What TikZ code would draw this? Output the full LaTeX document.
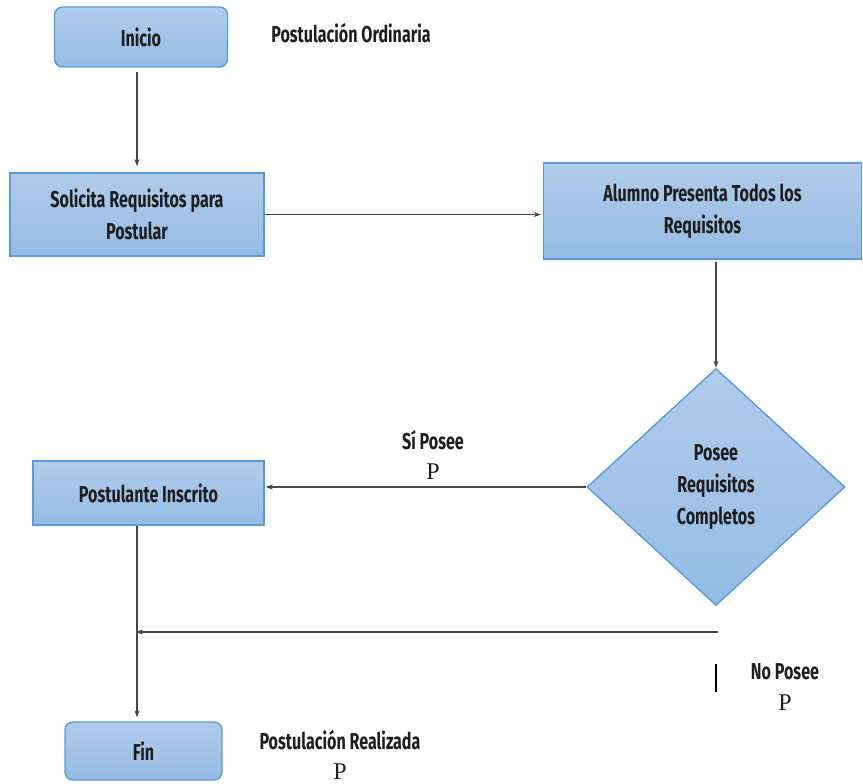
\documentclass[tikz,border=0pt]{standalone}
\usepackage{fontspec}
\setmainfont{Fira Sans}[FakeStretch=0.7]
\newfontfamily\pserif{Liberation Serif}
\usetikzlibrary{shapes.geometric,arrows.meta}
\definecolor{boxtop}{RGB}{178,204,235}
\definecolor{boxbot}{RGB}{148,187,227}
\definecolor{boxline}{RGB}{91,155,213}
\definecolor{wire}{RGB}{70,70,70}
\definecolor{ink}{RGB}{30,30,30}
\tikzset{
  boxbase/.style={draw=boxline, line width=1.4pt, top color=boxtop, bottom color=boxbot,
    text=ink, align=center, inner sep=0pt, font=\bfseries\fontsize{23}{32}\selectfont},
  terminal/.style={boxbase, rounded corners=8pt},
  process/.style={boxbase},
  decision/.style={boxbase, shape=diamond, minimum width=258pt, minimum height=237pt},
  label/.style={text=ink, align=center, font=\bfseries\fontsize{23}{32}\selectfont},
  pmark/.style={text=ink, font=\pserif\fontsize{24}{24}\selectfont, inner sep=0pt},
  flow/.style={draw=wire, line width=1.1pt, -{Stealth[length=7pt,width=5pt]}}
}
\begin{document}
\begin{tikzpicture}[x=1pt,y=-1pt]
  \useasboundingbox (0,0) rectangle (863,784);

  % process boxes
  \node[terminal, minimum width=173pt, minimum height=60pt] (ini) at (141,37) {Inicio};
  \node[process, minimum width=254pt, minimum height=83pt] (sol) at (137,214.5) {Solicita Requisitos para\\Postular};
  \node[process, minimum width=318pt, minimum height=96pt] (alu) at (702.5,211) {Alumno Presenta Todos los\\Requisitos};
  \node[decision] (dec) at (716,487) {Posee\\Requisitos\\Completos};
  \node[process, minimum width=231pt, minimum height=64pt] (ins) at (148.5,493) {Postulante Inscrito};
  \node[terminal, minimum width=157pt, minimum height=58pt] (fin) at (143.5,751) {Fin};

  % side notes
  \node[label] (t1) at (351,33) {Postulación Ordinaria};
  \node[label] (t2) at (433,440) {Sí Posee};
  \node[pmark] (p2) at (433,472) {P};
  \node[label] (t3) at (785,672) {No Posee};
  \node[pmark] (p3) at (785,703) {P};
  \node[label] (t4) at (340,740) {Postulación Realizada};
  \node[pmark] (p4) at (340,772) {P};

  % junction points
  \coordinate (j) at (137,632);
  \coordinate (np) at (718,632);
  \coordinate (bar1) at (716,664);
  \coordinate (bar2) at (716,692);

  % connectors
  \draw[flow, shorten <=4pt, shorten >=6pt] (ini.south -| j) -- (sol.north -| j);
  \draw[flow, shorten >=2pt] (sol.east) -- (sol.east -| alu.west);
  \draw[flow, shorten <=2pt] (dec.north |- alu.south) -- (dec.north);
  \draw[flow, shorten >=1pt] (dec.west) -- (dec.west -| ins.east);
  \draw[flow, shorten >=4pt] (ins.south -| j) -- (fin.north -| j);
  \draw[flow, shorten >=-1pt] (np) -- (j);
  \draw[line width=2.2pt, black] (bar1) -- (bar2);
\end{tikzpicture}
\end{document}
